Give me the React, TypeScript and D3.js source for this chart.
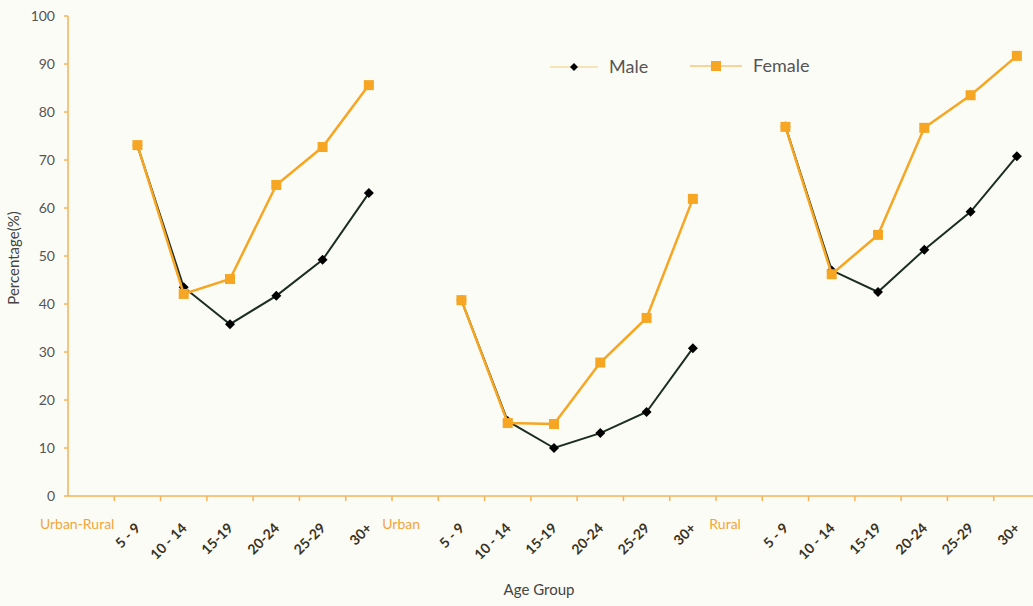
import React from "react";
import * as d3 from "d3";

const groupLabels = ["Urban-Rural", "Urban", "Rural"];
const ageGroups = ["5 - 9", "10 - 14", "15-19", "20-24", "25-29", "30+"];
const yTicks = [0, 10, 20, 30, 40, 50, 60, 70, 80, 90, 100];

const maleUrbanRural = [73, 43.5, 35.8, 41.7, 49.2, 63.1];
const femaleUrbanRural = [73.1, 42.1, 45.2, 64.8, 72.7, 85.6];
const maleUrban = [40.8, 15.6, 10.0, 13.1, 17.5, 30.8];
const femaleUrban = [40.8, 15.2, 15.0, 27.8, 37.1, 61.9];
const maleRural = [77, 47, 42.5, 51.3, 59.2, 70.8];
const femaleRural = [76.9, 46.2, 54.4, 76.7, 83.5, 91.7];

const maleSeries = [maleUrbanRural, maleUrban, maleRural];
const femaleSeries = [femaleUrbanRural, femaleUrban, femaleRural];

const W = 1033;
const H = 606;
const FONT = "Lato, 'Open Sans', sans-serif";
const AXIS = "#f7b35a";
const FEMALE = "#f6a623";
const MALE = "#1c2e20";

export default function App() {
  const categories: { label: string; group: boolean; g: number; a: number }[] = [];
  groupLabels.forEach((g, gi) => {
    categories.push({ label: g, group: true, g: gi, a: -1 });
    ageGroups.forEach((a, ai) => categories.push({ label: a, group: false, g: gi, a: ai }));
  });
  const x = d3
    .scaleBand<number>()
    .domain(categories.map((_, i) => i))
    .range([68, 1040])
    .paddingInner(0)
    .paddingOuter(0);
  const y = d3.scaleLinear().domain([0, 100]).range([496, 16]);
  const cx = (i: number) => (x(i) as number) + x.bandwidth() / 2;
  const idx = (g: number, a: number) => g * 7 + 1 + a;

  const line = d3
    .line<[number, number]>()
    .x((d) => d[0])
    .y((d) => d[1]);

  const diamond = (px: number, py: number, r: number) =>
    `M${px},${py - r}L${px + r},${py}L${px},${py + r}L${px - r},${py}Z`;

  return (
    <svg width={W} height={H} style={{ position: "absolute", left: 0, top: 0, background: "#fcfcf6" }}>
      <rect x={0} y={0} width={W} height={H} fill="#fcfcf6" />
      {/* y axis */}
      <line x1={68} x2={68} y1={y(100)} y2={y(0)} stroke={AXIS} strokeWidth={1.5} />
      {yTicks.map((t) => (
        <g key={t}>
          <line x1={64} x2={68} y1={y(t)} y2={y(t)} stroke={AXIS} strokeWidth={1.5} />
          <text x={55} y={y(t)} dy="0.35em" textAnchor="end" fontFamily={FONT} fontSize={14} fill="#555">
            {t}
          </text>
        </g>
      ))}
      {/* x axis */}
      <line x1={68} x2={W} y1={y(0)} y2={y(0)} stroke={AXIS} strokeWidth={1.5} />
      {categories.map((_, i) =>
        i > 0 ? (
          <line key={"t" + i} x1={x(i)} x2={x(i)} y1={y(0)} y2={y(0) + 5} stroke={AXIS} strokeWidth={1.5} />
        ) : null
      )}
      {categories.map((c, i) =>
        c.group ? (
          <text key={"l" + i} x={cx(i) - 14} y={529} textAnchor="middle" fontFamily={FONT} fontSize={14} fill="#f5a43a">
            {c.label}
          </text>
        ) : (
          <text
            key={"l" + i}
            transform={`translate(${cx(i) - 3},${522}) rotate(-45)`}
            textAnchor="end"
            dy="0.7em"
            fontFamily={FONT}
            fontSize={14}
            fontWeight={700}
            fill="#3b3222"
          >
            {c.label}
          </text>
        )
      )}
      {/* axis titles */}
      <text x={539} y={595} textAnchor="middle" fontFamily={FONT} fontSize={15} fill="#444">
        Age Group
      </text>
      <text transform="translate(19,258) rotate(-90)" textAnchor="middle" fontFamily={FONT} fontSize={15} fill="#444">
        Percentage(%)
      </text>
      {/* series */}
      {groupLabels.map((_, g) => {
        const fpts = femaleSeries[g].map((v, a) => [cx(idx(g, a)), y(v)] as [number, number]);
        const mpts = maleSeries[g].map((v, a) => [cx(idx(g, a)), y(v)] as [number, number]);
        return (
          <g key={"s" + g}>
            <path d={line(mpts) || ""} fill="none" stroke={MALE} strokeWidth={2} />
            {mpts.map((p, k) => (
              <path key={k} d={diamond(p[0], p[1], 5)} fill="#000" />
            ))}
            <path d={line(fpts) || ""} fill="none" stroke={FEMALE} strokeWidth={2.5} />
            {fpts.map((p, k) => (
              <rect key={k} x={p[0] - 5} y={p[1] - 5} width={10} height={10} fill={FEMALE} />
            ))}
          </g>
        );
      })}
      {/* legend */}
      <g>
        <line x1={550} x2={598} y1={67} y2={67} stroke="#f5e4b8" strokeWidth={2} />
        <path d={diamond(574, 67, 4)} fill="#000" />
        <text x={609} y={67} dy="0.35em" fontFamily={FONT} fontSize={18} fill="#555">
          Male
        </text>
        <line x1={690} x2={742} y1={66} y2={66} stroke={FEMALE} strokeWidth={1.5} opacity={0.6} />
        <rect x={711} y={61} width={10} height={10} fill={FEMALE} />
        <text x={753} y={66} dy="0.35em" fontFamily={FONT} fontSize={18} fill="#555">
          Female
        </text>
      </g>
    </svg>
  );
}
